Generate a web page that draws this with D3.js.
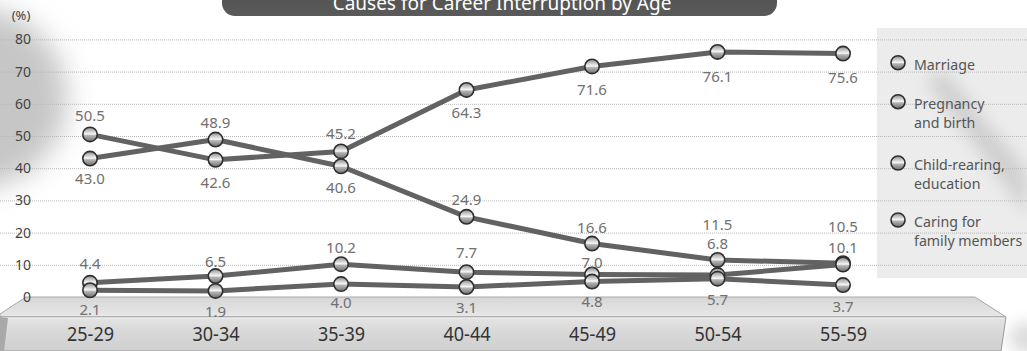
<!DOCTYPE html>
<html>
<head>
<meta charset="utf-8">
<script src="https://cdn.jsdelivr.net/npm/d3@7"></script>
<style>
  html, body { margin: 0; padding: 0; background: #fff; }
  svg { display: block; font-family: "Noto Sans", "DejaVu Sans", sans-serif; }
</style>
</head>
<body>
<svg id="chart" width="1027" height="351"></svg>
<script>
// Age groups and the share (%) of each cause of career interruption
const ageGroups = ["25-29", "30-34", "35-39", "40-44", "45-49", "50-54", "55-59"];
const marriage = [50.5, 42.6, 45.2, 64.3, 71.6, 76.1, 75.6];
const pregnancyBirth = [43.0, 48.9, 40.6, 24.9, 16.6, 11.5, 10.5];
const childRearing = [4.4, 6.5, 10.2, 7.7, 7.0, 6.8, 10.1];
const familyCare = [2.1, 1.9, 4.0, 3.1, 4.8, 5.7, 3.7];
const yTickValues = [0, 10, 20, 30, 40, 50, 60, 70, 80];
const legendLabels = [["Marriage"], ["Pregnancy", "and birth"], ["Child-rearing,", "education"], ["Caring for", "family members"]];
const titleText = "Causes for Career Interruption by Age";

// vertical offset of each value label from its marker (px, label centre)
const labelShift = [
  [-19, 23, -18, 23, 23, 25, 24],
  [20, -17, 21, -17, -16, -35, -36],
  [-19, -14, -16, -19, -12, -31, -17],
  [20, 21, 19, 21, 20, 21, 22]
];

const series = [marriage, pregnancyBirth, childRearing, familyCare];

const W = 1027, H = 351;
const svg = d3.select("#chart");
const defs = svg.append("defs");

const blur = defs.append("filter").attr("id", "soft").attr("x", "-50%").attr("y", "-50%").attr("width", "200%").attr("height", "200%");
blur.append("feGaussianBlur").attr("stdDeviation", 14);
const blur2 = defs.append("filter").attr("id", "soft2").attr("x", "-50%").attr("y", "-50%").attr("width", "200%").attr("height", "200%");
blur2.append("feGaussianBlur").attr("stdDeviation", 8);

// glossy marker
const ball = defs.append("linearGradient").attr("id", "ball").attr("x1", 0).attr("y1", 0).attr("x2", 0).attr("y2", 1);
[["0%", "#8a8a8a"], ["30%", "#cfcfcf"], ["48%", "#f7f7f7"], ["58%", "#b5b5b5"], ["100%", "#6e6e6e"]]
  .forEach(([o, c]) => ball.append("stop").attr("offset", o).attr("stop-color", c));

const topFace = defs.append("linearGradient").attr("id", "topFace").attr("x1", 0).attr("y1", 0).attr("x2", 0).attr("y2", 1);
[["0%", "#d6d6d6"], ["100%", "#e8e8e8"]].forEach(([o, c]) => topFace.append("stop").attr("offset", o).attr("stop-color", c));
const frontFace = defs.append("linearGradient").attr("id", "frontFace").attr("x1", 0).attr("y1", 0).attr("x2", 0).attr("y2", 1);
[["0%", "#e4e4e4"], ["45%", "#d8d8d8"], ["100%", "#cfcfcf"]].forEach(([o, c]) => frontFace.append("stop").attr("offset", o).attr("stop-color", c));
const titleFill = defs.append("linearGradient").attr("id", "titleFill").attr("x1", 0).attr("y1", 0).attr("x2", 0).attr("y2", 1);
[["0%", "#4e4e4e"], ["100%", "#5a5a5a"]].forEach(([o, c]) => titleFill.append("stop").attr("offset", o).attr("stop-color", c));

// scales
const x = d3.scalePoint().domain(ageGroups).range([90, 843]);
const y = d3.scaleLinear().domain([0, 80]).range([297, 39.4]);

// soft background shading
svg.append("ellipse").attr("cx", -25).attr("cy", 98).attr("rx", 92).attr("ry", 90)
  .attr("fill", "#c6c6c6").attr("filter", "url(#soft)");
svg.append("ellipse").attr("cx", 1030).attr("cy", 338).attr("rx", 22).attr("ry", 16)
  .attr("fill", "#dcdcdc").attr("filter", "url(#soft2)");

// legend panel
svg.append("rect").attr("x", 877).attr("y", 28).attr("width", 150).attr("height", 250).attr("fill", "#ececec");
svg.append("path").attr("d", "M925,80 L945,72 L1027,170 L1027,215 Z")
  .attr("fill", "#c9c9c9").attr("opacity", 0.8).attr("filter", "url(#soft2)");

// dotted gridlines
const grid = svg.append("g").call(d3.axisRight(y)
  .tickValues(yTickValues.filter(v => v > 0)).tickSize(W).tickFormat(""));
grid.select(".domain").remove();
grid.selectAll(".tick line").attr("stroke", "#b8b8b8").attr("stroke-width", 1).attr("stroke-dasharray", "1,1");

// title tab
svg.append("rect").attr("x", 222).attr("y", -22).attr("width", 555).attr("height", 38).attr("rx", 13)
  .attr("fill", "url(#titleFill)");
svg.append("text").attr("x", 502).attr("y", 10).attr("text-anchor", "middle")
  .attr("fill", "#ffffff").attr("font-size", 19).text(titleText);

// 3D base platform
svg.append("polygon").attr("points", "26,297 975,297 1006,317 0,317 0,314").attr("fill", "url(#topFace)")
  .attr("stroke", "#a8a8a8").attr("stroke-width", 1);
svg.append("polygon").attr("points", "0,317 1006,317 1001,351 0,351").attr("fill", "url(#frontFace)")
  .attr("stroke", "#9a9a9a").attr("stroke-width", 1);
svg.append("line").attr("x1", 0).attr("x2", 1005).attr("y1", 318).attr("y2", 318).attr("stroke", "#f2f2f2");
svg.append("polygon").attr("points", "0,317 8,318 4,351 0,351").attr("fill", "#a9a9a9");

// y axis labels
const yAxis = svg.append("g").attr("transform", "translate(31,0)")
  .call(d3.axisLeft(y).tickValues(yTickValues).tickSize(0).tickPadding(0).tickFormat(d3.format("d")));
yAxis.select(".domain").remove();
yAxis.selectAll("text").attr("font-size", 14).attr("fill", "#444").attr("font-family", "Noto Sans, sans-serif");
svg.append("text").attr("x", 21).attr("y", 20).attr("text-anchor", "middle").attr("font-size", 13)
  .attr("fill", "#444").text("(%)");

// x axis labels on the platform front
const xAxis = svg.append("g").attr("transform", "translate(0,334)")
  .call(d3.axisBottom(x).tickSize(0).tickPadding(0));
xAxis.select(".domain").remove();
xAxis.selectAll("text").attr("y", 0).attr("dy", "0.35em").attr("font-size", 20).attr("fill", "#333")
  .attr("font-family", "Noto Sans, sans-serif")
  .attr("textLength", 47).attr("lengthAdjust", "spacingAndGlyphs");

// lines
const line = d3.line().x((d, i) => x(ageGroups[i])).y(d => y(d));
svg.append("g").selectAll("path").data(series).join("path")
  .attr("d", line).attr("fill", "none").attr("stroke", "#626262").attr("stroke-width", 5)
  .attr("stroke-linejoin", "round");

// markers
const markers = svg.append("g");
series.forEach(vals => {
  markers.append("g").selectAll("circle").data(vals).join("circle")
    .attr("cx", (d, i) => x(ageGroups[i])).attr("cy", d => y(d)).attr("r", 7.2)
    .attr("fill", "url(#ball)").attr("stroke", "#2e2e2e").attr("stroke-width", 1.6);
});

// value labels
const fmt = d3.format(".1f");
const labels = svg.append("g").attr("font-size", 15).attr("fill", "#707070").attr("text-anchor", "middle");
series.forEach((vals, s) => {
  labels.append("g").selectAll("text").data(vals).join("text")
    .attr("x", (d, i) => x(ageGroups[i]))
    .attr("y", (d, i) => y(d) + labelShift[s][i])
    .attr("dy", "0.35em").text(d => fmt(d));
});

// legend entries
const legendY = [62.7, 101.7, 163, 220];
const legend = svg.append("g");
legendLabels.forEach((lines, k) => {
  legend.append("circle").attr("cx", 898).attr("cy", legendY[k]).attr("r", 7)
    .attr("fill", "url(#ball)").attr("stroke", "#2e2e2e").attr("stroke-width", 1.6);
  const t = legend.append("text").attr("x", 914).attr("y", legendY[k] + 2).attr("font-size", 14.2)
    .attr("fill", "#555");
  lines.forEach((ln, j) => t.append("tspan").attr("x", 914).attr("dy", j === 0 ? "0.35em" : 19.5).text(ln));
});
</script>
</body>
</html>
